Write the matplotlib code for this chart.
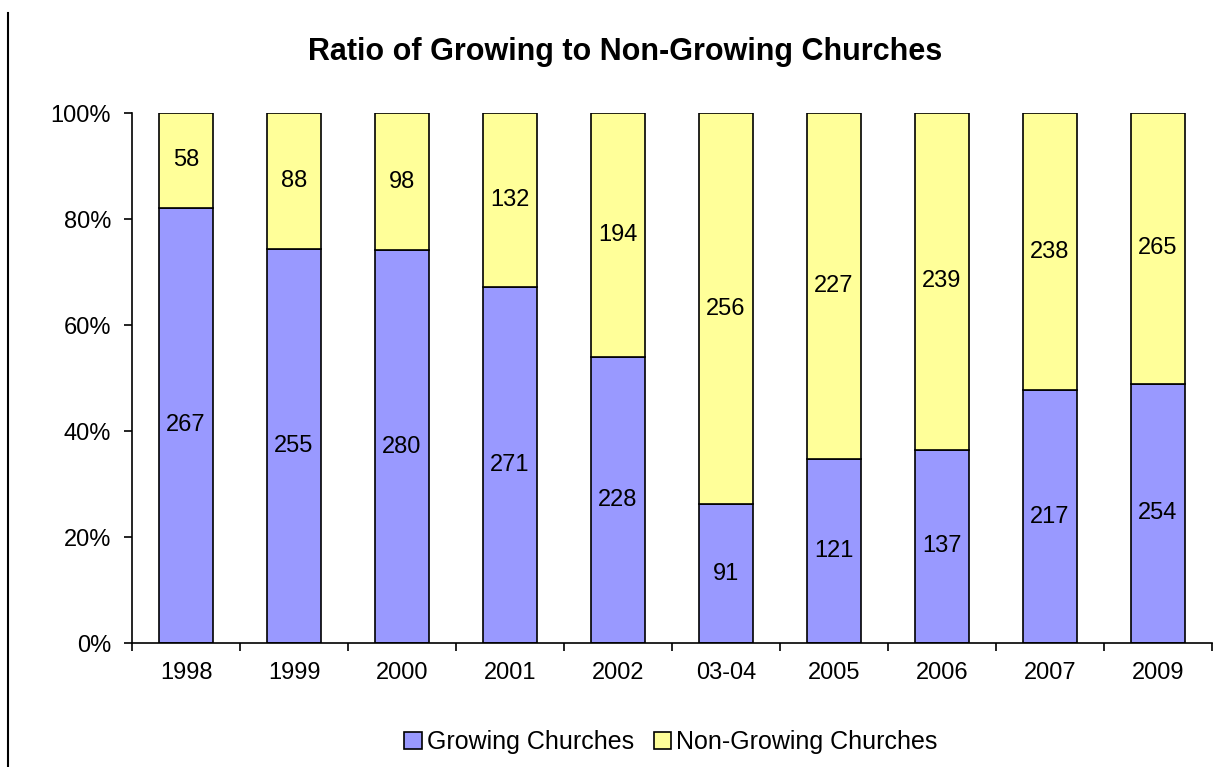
import matplotlib.pyplot as plt
import numpy as np
from matplotlib.lines import Line2D

plt.rcParams['font.family'] = ['Liberation Sans', 'DejaVu Sans']

years = ["1998", "1999", "2000", "2001", "2002", "03-04", "2005", "2006", "2007", "2009"]
growing = [267, 255, 280, 271, 228, 91, 121, 137, 217, 254]
non_growing = [58, 88, 98, 132, 194, 256, 227, 239, 238, 265]

g = np.array(growing, dtype=float)
n = np.array(non_growing, dtype=float)
tot = g + n
gp = g / tot * 100
np_ = n / tot * 100

fig = plt.figure(figsize=(12.22, 7.67), dpi=100)
ax = fig.add_axes([132 / 1222, 1 - 643 / 767, 1080 / 1222, 530 / 767])

x = np.arange(len(years))
ax.bar(x, gp, width=0.5, color="#9999FF", edgecolor="black", linewidth=1.2,
       label="Growing Churches")
ax.bar(x, np_, width=0.5, bottom=gp, color="#FFFF99", edgecolor="black", linewidth=1.2,
       label="Non-Growing Churches")

for i in range(len(years)):
    ax.text(x[i], gp[i] / 2, str(growing[i]), ha="center", va="center", fontsize=17)
    ax.text(x[i], gp[i] + np_[i] / 2, str(non_growing[i]), ha="center", va="center", fontsize=17)

ax.set_xlim(-0.5, len(years) - 0.5)
ax.set_ylim(0, 100)
ax.set_yticks([0, 20, 40, 60, 80, 100])
ax.set_yticklabels(["0%", "20%", "40%", "60%", "80%", "100%"], fontsize=17)
ax.set_xticks(x)
ax.set_xticklabels(years, fontsize=17)
ax.set_xticks(np.arange(-0.5, len(years)), minor=True)
ax.tick_params(axis="x", which="major", length=0, pad=14)
ax.tick_params(axis="x", which="minor", length=6, width=1.2, direction="out")
ax.tick_params(axis="y", length=6, width=1.2, direction="out", pad=9)

for s in ["top", "right"]:
    ax.spines[s].set_visible(False)
for s in ["left", "bottom"]:
    ax.spines[s].set_linewidth(1.2)

fig.text(625 / 1222, 1 - 52 / 767, "Ratio of Growing to Non-Growing Churches",
         ha="center", va="center", fontsize=22, fontweight="bold")

fig.legend(loc="center", bbox_to_anchor=(671 / 1222, 1 - 742 / 767), ncol=2,
           frameon=False, fontsize=18, handlelength=0.7, handleheight=0.7,
           handletextpad=0.2, columnspacing=0.8)

fig.add_artist(Line2D([8 / 1222, 8 / 1222], [0, 1 - 13 / 767],
                      transform=fig.transFigure, color="black", linewidth=1.5))

fig.savefig("out.png", dpi=100)
